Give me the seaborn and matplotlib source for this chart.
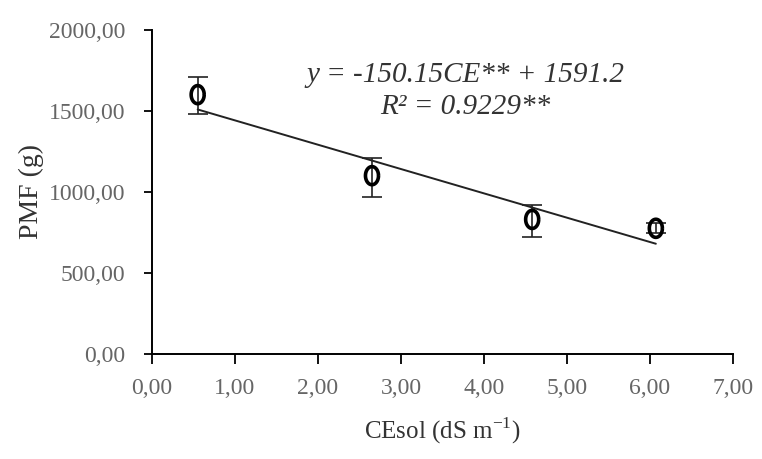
import matplotlib
matplotlib.use("Agg")
import matplotlib.pyplot as plt
from matplotlib.path import Path
import seaborn as sns
import numpy as np
import pandas as pd

# Data
ce = [0.55, 2.65, 4.58, 6.07]
pmf = [1600, 1100, 830, 775]
err_low = [120, 130, 110, 30]
err_high = [110, 110, 90, 30]
slope = -150.15
intercept = 1591.2
x_ticks = [0, 1, 2, 3, 4, 5, 6, 7]
y_ticks = [0, 500, 1000, 1500, 2000]

sns.set_theme(style="white")
plt.rcParams['font.family'] = ['Liberation Serif', 'DejaVu Serif']

df = pd.DataFrame({'CE': ce, 'PMF': pmf})

# tall oval marker like the original
t = np.linspace(0, 2 * np.pi, 60)
oval = Path(np.column_stack([0.72 * np.cos(t), np.sin(t)]))

fig = plt.figure(figsize=(7.62, 4.59), dpi=100)
ax = fig.add_axes([0.1995, 0.229, 0.7625, 0.706])

# Fitted line
xfit = np.array([ce[0], ce[-1]])
sns.lineplot(x=xfit, y=slope * xfit + intercept, color='#222222', linewidth=1.4, ax=ax)

ax.errorbar(ce, pmf, yerr=[err_low, err_high], fmt='none', ecolor='#222222',
            elinewidth=1.2, capsize=7, capthick=1.2, zorder=3)
sns.scatterplot(data=df, x='CE', y='PMF', marker=oval, s=170, facecolor='none',
                edgecolor='black', linewidth=2.6, ax=ax, zorder=4)

ax.set_xlim(0, 7)
ax.set_ylim(0, 2000)
ax.set_xticks(x_ticks)
ax.set_yticks(y_ticks)
ax.set_xticklabels([f"{v:.2f}".replace('.', ',') for v in x_ticks], fontsize=17, color='#666666')
ax.set_yticklabels([f"{v:.2f}".replace('.', ',') for v in y_ticks], fontsize=17, color='#666666')
ax.tick_params(axis='x', direction='out', length=7, width=1.3, color='black', bottom=True, pad=10)
ax.tick_params(axis='y', direction='out', length=6, width=1.3, color='black', left=True, pad=13)

for s in ['top', 'right']:
    ax.spines[s].set_visible(False)
for s in ['left', 'bottom']:
    ax.spines[s].set_color('black')
    ax.spines[s].set_linewidth(1.4)

ax.set_xlabel('CEsol (dS m$^{\\mathregular{-1}}$)', fontsize=18, color='#333333', labelpad=12)
ax.set_ylabel('PMF (g)', fontsize=20, color='#333333', labelpad=4)

ax.text(0.539, 0.862, 'y = -150.15CE** + 1591.2', transform=ax.transAxes,
        ha='center', va='center', fontsize=21, style='italic', color='#333333')
ax.text(0.539, 0.762, 'R² = 0.9229**', transform=ax.transAxes,
        ha='center', va='center', fontsize=21, style='italic', color='#333333')

fig.savefig('out.png', dpi=100)
